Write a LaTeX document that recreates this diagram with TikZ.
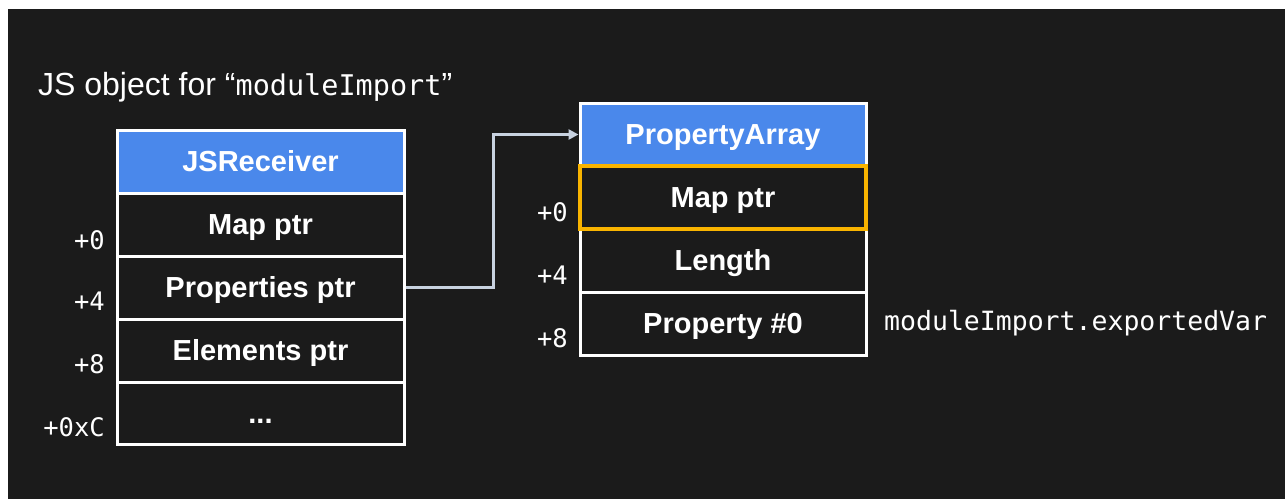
\documentclass[tikz,border=0pt]{standalone}
\usepackage{fontspec}
\setmainfont{Liberation Sans}
\newfontfamily\monofont{DejaVu Sans Mono}
\usetikzlibrary{arrows.meta}
\definecolor{bgdark}{HTML}{1B1B1B}
\definecolor{hdrblue}{HTML}{4A88EB}
\definecolor{hlorange}{HTML}{F9B400}
\definecolor{connclr}{HTML}{C8D2E0}
\tikzset{
  cellbox/.style={draw=white, line width=3pt, fill=bgdark, text=white,
    minimum height=63pt, inner sep=0pt, text height=20.5pt, text depth=0pt,
    font=\fontsize{29}{34}\selectfont\bfseries},
  leftcell/.style={cellbox, minimum width=287pt},
  rightcell/.style={cellbox, minimum width=286pt},
  hdr/.style={fill=hdrblue},
  offlbl/.style={anchor=east, text=white, inner sep=0pt, font=\fontsize{25.5}{30}\monofont},
  conn/.style={draw=connclr, line width=2.5pt, -{Triangle[length=10pt,width=10pt]}},
}
\begin{document}
\begin{tikzpicture}[x=1pt,y=-1pt]
\useasboundingbox (0,0) rectangle (1285,499);
\fill[white] (0,0) rectangle (1285,499);
\fill[bgdark] (8,9) rectangle (1285,499);

\node[anchor=base west, text=white, inner sep=0pt, font=\fontsize{32}{36}\selectfont] (title) at (38,95)
  {JS object for “{\monofont\fontsize{28.5}{34}\selectfont moduleImport}”};

% left table
\node[leftcell, hdr] (jsr) at (260.5,161.5) {JSReceiver};
\node[leftcell] (lmap) at (260.5,224.5) {Map ptr};
\node[leftcell] (pp) at (260.5,287.5) {Properties ptr};
\node[leftcell] (ep) at (260.5,350.5) {Elements ptr};
\node[leftcell, minimum height=62pt] (dots) at (260.5,413) {...};

\node[offlbl] (l0) at (105,240) {+0};
\node[offlbl] (l4) at (105,301) {+4};
\node[offlbl] (l8) at (105,364) {+8};
\node[offlbl] (lc) at (105,427) {+0xC};

% right table
\node[rightcell, hdr] (pa) at (723,134.5) {PropertyArray};
\node[rightcell] (len) at (723,260.5) {Length};
\node[rightcell] (p0) at (723,323.5) {Property \#0};
\node[rightcell, draw=hlorange, line width=4pt] (rmap) at (723,197.5) {Map ptr};

\node[offlbl] (r0) at (568,212.5) {+0};
\node[offlbl] (r4) at (568,275) {+4};
\node[offlbl] (r8) at (568,338) {+8};

\node[anchor=base west, text=white, inner sep=0pt, font=\fontsize{26.5}{30}\monofont] (mie) at (884,330) {moduleImport.exportedVar};

% connector
\draw[conn] (pp.east) -- ++(88,0) |- (pa.west);
\end{tikzpicture}
\end{document}
